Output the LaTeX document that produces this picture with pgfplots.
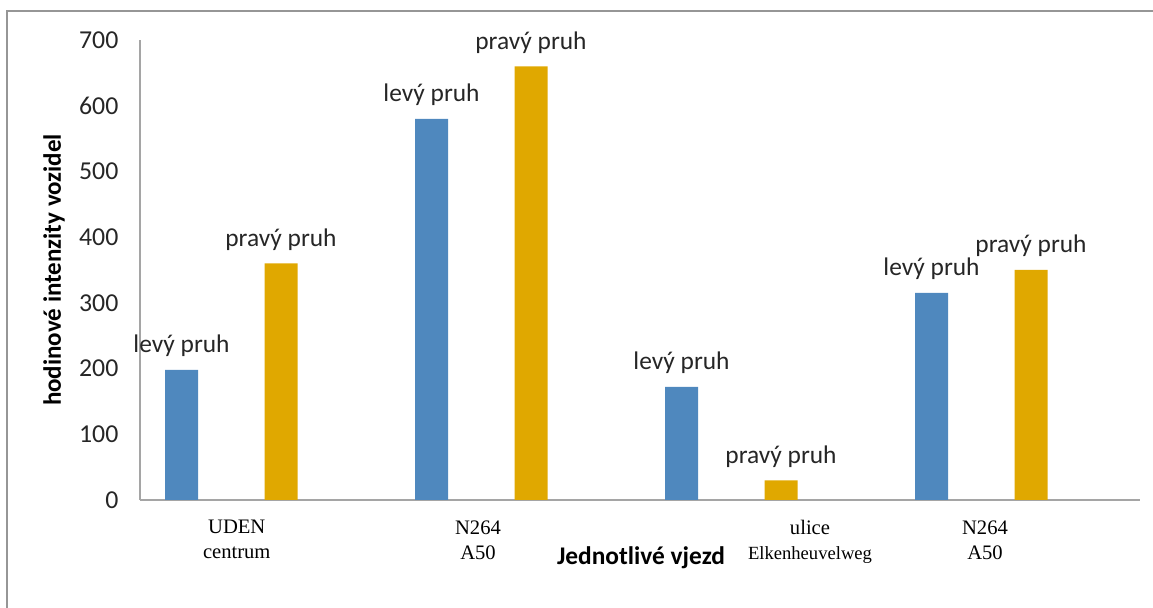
\documentclass[border=0pt]{standalone}
\usepackage{fontspec}
\setmainfont{Carlito}
\newfontfamily\serifl{Liberation Serif}
\usepackage{pgfplots}
\pgfplotsset{compat=1.18}
\definecolor{barblue}{RGB}{79,136,190}
\definecolor{barorange}{RGB}{224,168,0}
\definecolor{txt}{RGB}{38,38,38}
\definecolor{framegray}{RGB}{150,150,150}
\definecolor{axisgray}{RGB}{165,165,165}

\begin{document}
\begin{tikzpicture}
\path[use as bounding box] (0,0) rectangle (576.5pt,304pt);
\draw[framegray, line width=0.8pt] (3.5pt,0pt) -- (3.5pt,298.5pt) -- (576.5pt,298.5pt);
\begin{axis}[
    at={(70pt,54pt)}, anchor=south west,
    scale only axis, width=500pt, height=230pt,
    ybar, bar width=16.5pt,
    xmin=-0.5, xmax=3.5,
    ymin=0, ymax=700,
    ytick={0,100,...,700},
    xtick={-0.113,0.852,2.18,2.88},
    xticklabels={UDEN\\centrum, N264\\A50, ulice\\{\fontsize{9.3}{10}\selectfont Elkenheuvelweg}, N264\\A50},
    axis x line*=bottom, axis y line*=left,
    axis line style={-, draw=axisgray, line width=0.8pt},
    major tick length=0pt,
    tick style={draw=none},
    clip=false,
    /pgf/number format/assume math mode=true,
    yticklabel style={font=\fontsize{12.9}{15}\selectfont, text=txt, xshift=-7.3pt},
    xticklabel style={font=\serifl\fontsize{10.3}{12.5}\selectfont, text=black, align=center,
        anchor=north, inner sep=0pt, yshift=-10pt},
    xlabel={Jednotlivé vjezd},
    xlabel style={at={(axis description cs:0.501,0)}, anchor=base, yshift=-32.5pt,
        font=\bfseries\fontsize{12.7}{15}\selectfont, text=black},
    ylabel={hodinové intenzity vozidel},
    ylabel style={at={(axis description cs:-0.086,0.5)}, anchor=center,
        font=\bfseries\fontsize{12.5}{15}\selectfont, text=black},
    every node near coord/.append style={font=\fontsize{12.7}{15}\selectfont, text=txt, yshift=3pt},
]
\addplot[fill=barblue, draw=none, bar shift=-41.75pt, nodes near coords={levý pruh}]
    coordinates {(0,198) (1,580) (2,172) (3,315)};
\addplot[fill=barorange, draw=none, bar shift=8pt, nodes near coords={pravý pruh}]
    coordinates {(0,360) (1,660) (2,30) (3,350)};
\end{axis}
\end{tikzpicture}
\end{document}
